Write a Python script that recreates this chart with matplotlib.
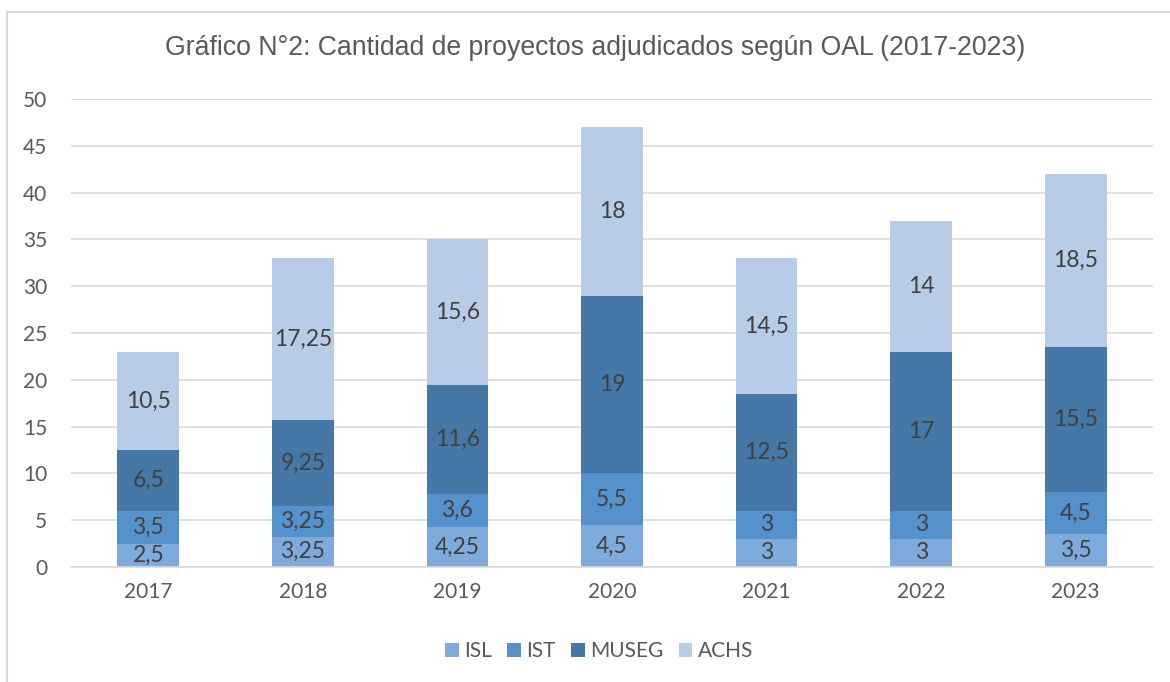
import numpy as np
import matplotlib.pyplot as plt
from matplotlib.patches import Rectangle

years = ['2017', '2018', '2019', '2020', '2021', '2022', '2023']
isl = [2.5, 3.25, 4.25, 4.5, 3, 3, 3.5]
ist = [3.5, 3.25, 3.6, 5.5, 3, 3, 4.5]
museg = [6.5, 9.25, 11.6, 19, 12.5, 17, 15.5]
achs = [10.5, 17.25, 15.6, 18, 14.5, 14, 18.5]

series = [('ISL', isl, '#7FAADC'), ('IST', ist, '#5592CC'),
          ('MUSEG', museg, '#4577A7'), ('ACHS', achs, '#B8CCE8')]

plt.rcParams['font.family'] = ['Lato', 'DejaVu Sans']

fig = plt.figure(figsize=(11.7, 6.82), dpi=100)
# chart border (cut off at right and bottom like the screenshot)
fig.patches.append(Rectangle((7 / 1170, -0.1), 1.2, 1 - 12 / 682 + 0.1,
                             transform=fig.transFigure, fill=False,
                             edgecolor='#D9D9D9', linewidth=1.5))

ax = fig.add_axes([71 / 1170, 1 - 567 / 682, (1153 - 71) / 1170, (567 - 99) / 682])
x = np.arange(len(years))
bottom = np.zeros(len(years))
for name, vals, col in series:
    vals = np.array(vals)
    bars = ax.bar(x, vals, 0.4, bottom=bottom, color=col, label=name, zorder=2)
    labels = [f"{v:g}".replace('.', ',') for v in vals]
    ax.bar_label(bars, labels=labels, label_type='center', color='#404040', fontsize=16.5)
    bottom += vals

ax.set_xlim(-0.5, 6.5)
ax.set_ylim(0, 50)
ax.set_yticks(range(0, 51, 5))
ax.set_xticks(x)
ax.set_xticklabels(years)
ax.grid(axis='y', color='#D9D9D9', linewidth=1.2, zorder=0)
for s in ['top', 'right', 'left']:
    ax.spines[s].set_visible(False)
ax.spines['bottom'].set_color('#D9D9D9')
ax.spines['bottom'].set_linewidth(1.2)
ax.tick_params(length=0, labelsize=15, labelcolor='#595959')
ax.tick_params(axis='y', pad=17)
ax.tick_params(axis='x', pad=11)

fig.text(595 / 1170, 1 - 48 / 682, 'Gráfico N°2: Cantidad de proyectos adjudicados según OAL (2017-2023)',
         ha='center', va='center', fontsize=19.2, color='#595959', family='Liberation Sans')

fig.legend(loc='center', bbox_to_anchor=(599 / 1170, 1 - 651 / 682), ncol=4, frameon=False,
           fontsize=15, labelcolor='#595959', handlelength=0.65, handleheight=0.65,
           handletextpad=0.25, columnspacing=0.75)

fig.savefig('out.png', dpi=100)
